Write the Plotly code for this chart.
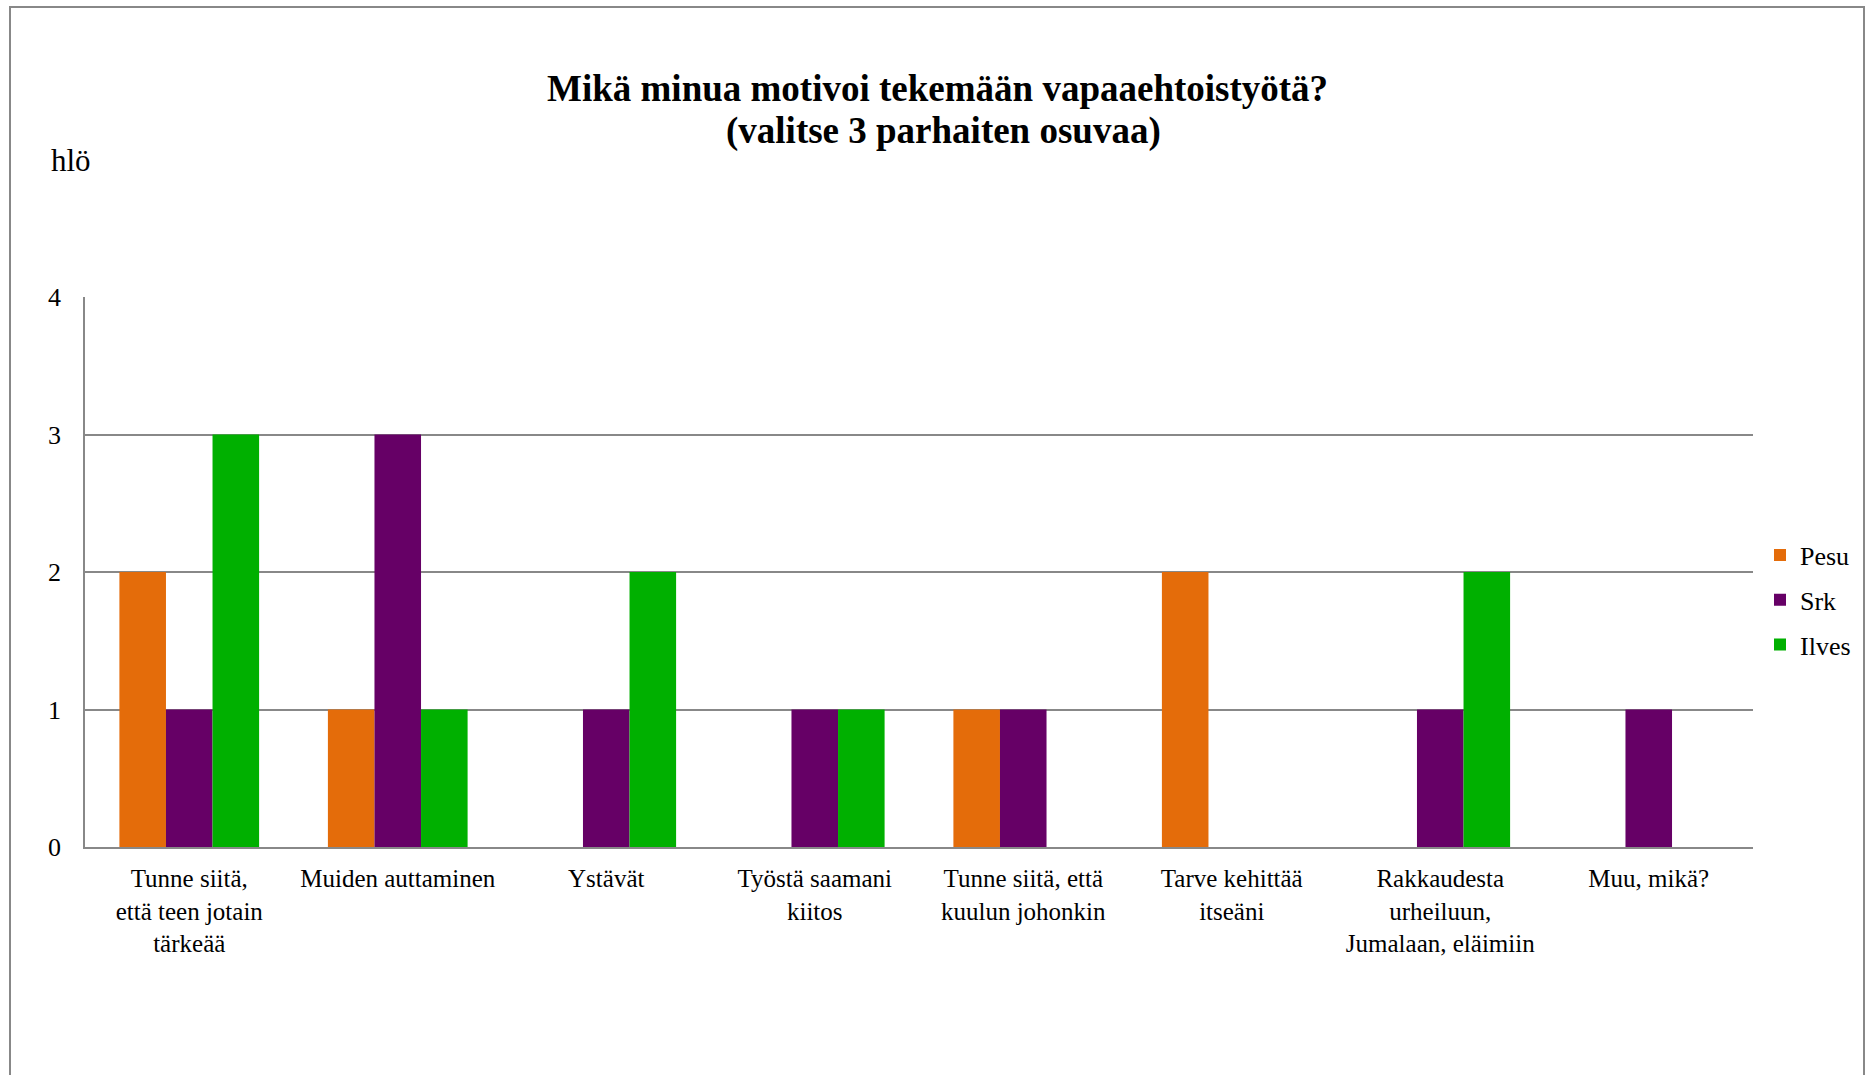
import plotly.graph_objects as go

categories = [
    "Tunne siitä,<br>että teen jotain<br>tärkeää",
    "Muiden auttaminen",
    "Ystävät",
    "Työstä saamani<br>kiitos",
    "Tunne siitä, että<br>kuulun johonkin",
    "Tarve kehittää<br>itseäni",
    "Rakkaudesta<br>urheiluun,<br>Jumalaan, eläimiin",
    "Muu, mikä?",
]
pesu = [2, 1, 0, 0, 1, 2, 0, 0]
srk = [1, 3, 1, 1, 1, 0, 1, 1]
ilves = [3, 1, 2, 1, 0, 0, 2, 0]
series_names = ["Pesu", "Srk", "Ilves"]
colors = ["#E46C0A", "#660066", "#00B000"]

W, H = 1870, 1075
L, R, T, B = 85, 1753, 297, 847
FONT = "Liberation Serif, Times New Roman, serif"

fig = go.Figure()
for name, vals, c in zip(series_names, [pesu, srk, ilves], colors):
    fig.add_trace(go.Bar(x=categories, y=vals, name=name, marker_color=c,
                         marker_line_width=0, legendgroup=name))

def px(x):
    return (x - L) / (R - L)

def py(y):
    return (B - y) / (B - T)

fig.update_layout(
    width=W, height=H,
    margin=dict(l=L, r=W - R, t=T, b=H - B, pad=0),
    paper_bgcolor="white", plot_bgcolor="white",
    barmode="group", bargap=0.33, bargroupgap=0,
    font=dict(family=FONT, size=26, color="black"),
    legend=dict(x=px(1760), xanchor="left", y=py(600), yanchor="middle",
                font=dict(family=FONT, size=26), tracegroupgap=8,
                itemwidth=30, bgcolor="rgba(0,0,0,0)"),
    showlegend=True,
    xaxis=dict(showgrid=False, showline=True, linecolor="#888888", linewidth=2,
               ticks="", tickfont=dict(family=FONT, size=25), ticklabelstandoff=8),
    yaxis=dict(range=[0, 4], dtick=1, showgrid=True, gridcolor="#888888", gridwidth=1.5,
               showline=True, linecolor="#888888", linewidth=1.5, ticks="",
               zeroline=False, tickfont=dict(family=FONT, size=26), ticklabelstandoff=17),
    annotations=[
        dict(text="<b>Mikä minua motivoi tekemään vapaaehtoistyötä?</b>", xref="paper", yref="paper",
             x=px(937), y=py(88), xanchor="center", yanchor="middle", showarrow=False,
             font=dict(family=FONT, size=37)),
        dict(text="<b>(valitse 3 parhaiten osuvaa)</b>", xref="paper", yref="paper",
             x=px(943), y=py(131), xanchor="center", yanchor="middle", showarrow=False,
             font=dict(family=FONT, size=37)),
        dict(text="hlö", xref="paper", yref="paper", x=px(49), y=py(160),
             xanchor="left", yanchor="middle", showarrow=False,
             font=dict(family=FONT, size=31)),
    ],
    shapes=[dict(type="rect", xref="paper", yref="paper",
                 x0=px(10), x1=px(1864), y0=py(1080), y1=py(7),
                 line=dict(color="#888888", width=2), fillcolor="rgba(0,0,0,0)")],
)

fig.write_html("out.html")
